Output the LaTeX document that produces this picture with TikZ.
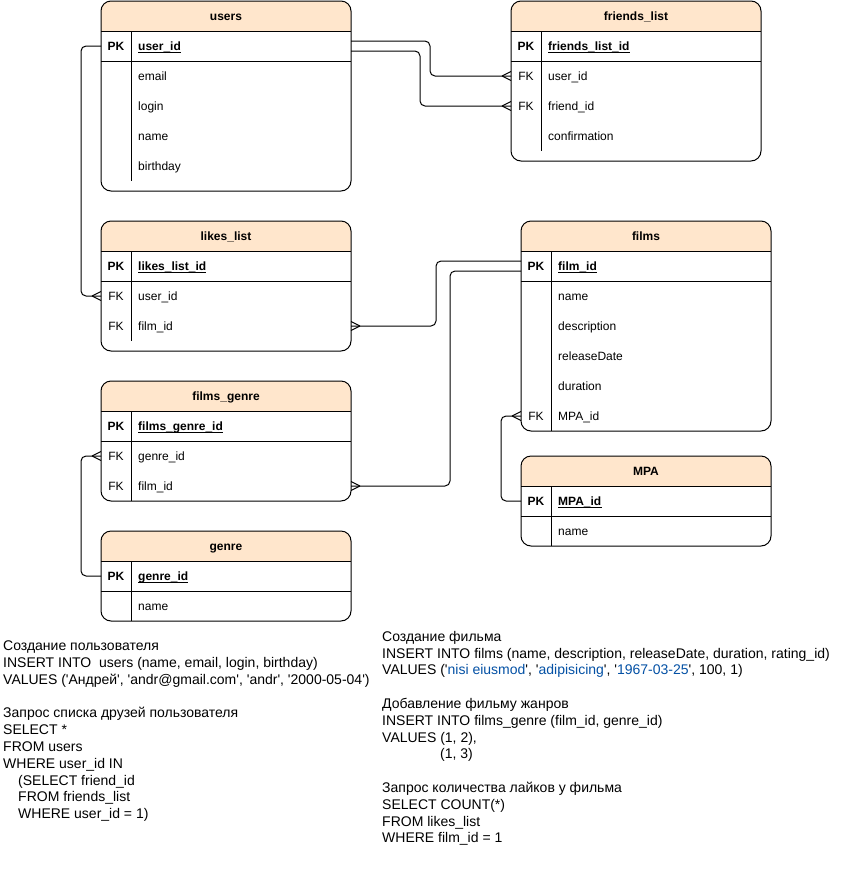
\documentclass[tikz,border=0pt]{standalone}
\usepackage{fontspec}
\setmainfont{Liberation Sans}
\usetikzlibrary{calc}

\definecolor{hdrfill}{HTML}{FFE6CC}
\definecolor{strblue}{HTML}{0451A5}

\newcommand\sq{\textquotesingle}

\tikzset{
  tline/.style={line width=1pt},
  tbl/.style={draw, line width=1pt, rounded corners=10pt, inner sep=0pt, outer sep=0pt},
  ttl/.style={anchor=base, inner sep=0pt, font=\fontsize{12}{14}\selectfont\bfseries},
  keytxt/.style={anchor=base, inner sep=0pt},
  fldtxt/.style={anchor=base west, inner sep=0pt},
  conn/.style={line width=1pt, rounded corners=5pt},
  sqltxt/.style={anchor=north west, align=left, inner sep=0pt, font=\fontsize{14}{16.8}\selectfont},
}

% table frame: name, x, y, width, height, title, end of key column rule
\newcommand\ertable[7]{%
  \begin{scope}
    \clip[rounded corners=10pt] (#2,#3) rectangle ++(#4,#5);
    \fill[hdrfill] (#2,#3) rectangle ++(#4,30);
  \end{scope}
  \node[tbl, minimum width=#4pt, minimum height=#5pt, anchor=north west] (#1) at (#2,#3) {};
  \draw[tline] (#2,#3+30) -- ++(#4,0);
  \draw[tline] (#2,#3+60) -- ++(#4,0);
  \draw[tline] (#2+30,#3+30) -- (#2+30,#7);
  \node[ttl] (#1-title) at (#2+#4/2,#3+19.5) {#6};
}

% primary key row: node name, table x, row centre y, field
\newcommand\pkrow[4]{%
  \node[keytxt, font=\fontsize{12}{14}\selectfont\bfseries] (#1-k) at (#2+15,#3+4.3) {PK};
  \node[fldtxt, font=\fontsize{12}{14}\selectfont\bfseries] (#1) at (#2+37,#3+4.3) {#4};
  \draw[tline] ([yshift=-2pt]#1.base west) -- ([yshift=-2pt]#1.base east);
}

% ordinary row: node name, table x, row centre y, key, field
\newcommand\fldrow[5]{%
  \node[keytxt] (#1-k) at (#2+15,#3+4.3) {#4};
  \node[fldtxt] (#1) at (#2+37,#3+4.3) {#5};
}

% crow's foot (many) ends
\newcommand\crowL[1]{%
  \draw[tline] ($(#1)+(-9,0)$) -- ($(#1)+(0,-4.5)$) ($(#1)+(-9,0)$) -- ($(#1)+(0,4.5)$);
}
\newcommand\crowR[1]{%
  \draw[tline] ($(#1)+(9,0)$) -- ($(#1)+(0,-4.5)$) ($(#1)+(9,0)$) -- ($(#1)+(0,4.5)$);
}

\begin{document}
\begin{tikzpicture}[x=1pt, y=-1pt, every node/.style={font=\fontsize{12}{14}\selectfont}]
\useasboundingbox[fill=white] (0,0) rectangle (850,871);

% ---------- tables ----------
\ertable{users}{101}{1}{250}{190}{users}{181}
\pkrow{users-id}{101}{46}{user\_id}
\fldrow{users-email}{101}{76}{}{email}
\fldrow{users-login}{101}{106}{}{login}
\fldrow{users-name}{101}{136}{}{name}
\fldrow{users-bday}{101}{166}{}{birthday}

\ertable{fl}{511}{1}{250}{160}{friends\_list}{151}
\pkrow{fl-id}{511}{46}{friends\_list\_id}
\fldrow{fl-uid}{511}{76}{FK}{user\_id}
\fldrow{fl-fid}{511}{106}{FK}{friend\_id}
\fldrow{fl-conf}{511}{136}{}{confirmation}

\ertable{likes}{101}{221}{250}{130}{likes\_list}{341}
\pkrow{likes-id}{101}{266}{likes\_list\_id}
\fldrow{likes-uid}{101}{296}{FK}{user\_id}
\fldrow{likes-film}{101}{326}{FK}{film\_id}

\ertable{films}{521}{221}{250}{210}{films}{431}
\pkrow{films-id}{521}{266}{film\_id}
\fldrow{films-name}{521}{296}{}{name}
\fldrow{films-desc}{521}{326}{}{description}
\fldrow{films-rel}{521}{356}{}{releaseDate}
\fldrow{films-dur}{521}{386}{}{duration}
\fldrow{films-mpa}{521}{416}{FK}{MPA\_id}

\ertable{fg}{101}{381}{250}{120}{films\_genre}{501}
\pkrow{fg-id}{101}{426}{films\_genre\_id}
\fldrow{fg-genre}{101}{456}{FK}{genre\_id}
\fldrow{fg-film}{101}{486}{FK}{film\_id}

\ertable{genre}{101}{531}{250}{90}{genre}{621}
\pkrow{genre-id}{101}{576}{genre\_id}
\fldrow{genre-name}{101}{606}{}{name}

\ertable{mpa}{521}{456}{250}{90}{MPA}{546}
\pkrow{mpa-id}{521}{501}{MPA\_id}
\fldrow{mpa-name}{521}{531}{}{name}

% ---------- attachment points ----------
\coordinate (users-pkL) at (users.west |- 0,46);
\coordinate (users-r1) at (users.east |- 0,41);
\coordinate (users-r2) at (users.east |- 0,51);
\coordinate (fl-uidL) at (fl.west |- 0,76);
\coordinate (fl-fidL) at (fl.west |- 0,106);
\coordinate (likes-uidL) at (likes.west |- 0,296);
\coordinate (likes-filmR) at (likes.east |- 0,326);
\coordinate (films-pkL1) at (films.west |- 0,261);
\coordinate (films-pkL2) at (films.west |- 0,271);
\coordinate (films-mpaL) at (films.west |- 0,416);
\coordinate (fg-genreL) at (fg.west |- 0,456);
\coordinate (fg-filmR) at (fg.east |- 0,486);
\coordinate (genre-pkL) at (genre.west |- 0,576);
\coordinate (mpa-pkL) at (mpa.west |- 0,501);

% ---------- relations ----------
\draw[conn] (users-pkL) -- ++(-20,0) |- (likes-uidL);
\crowL{likes-uidL}
\draw[conn] (users-r1) -- ++(79,0) |- (fl-uidL);
\crowL{fl-uidL}
\draw[conn] (users-r2) -- ++(69,0) |- (fl-fidL);
\crowL{fl-fidL}
\draw[conn] (likes-filmR) -- ++(85,0) |- (films-pkL1);
\crowR{likes-filmR}
\draw[conn] (fg-filmR) -- ++(99,0) |- (films-pkL2);
\crowR{fg-filmR}
\draw[conn] (mpa-pkL) -- ++(-20,0) |- (films-mpaL);
\crowL{films-mpaL}
\draw[conn] (genre-pkL) -- ++(-20,0) |- (fg-genreL);
\crowL{fg-genreL}

% ---------- SQL notes ----------
\node[sqltxt] (sqlusers) at (3,638.5) {\rule{0pt}{12pt}Создание пользователя\\
INSERT INTO~ users (name, email, login, birthday)\\
VALUES (\sq Андрей\sq, \sq andr@gmail.com\sq, \sq andr\sq, \sq 2000-05-04\sq)\\[16.8pt]
Запрос списка друзей пользователя\\
SELECT *\\
FROM users\\
WHERE user\_id IN\\
\hspace*{15pt}(SELECT friend\_id\\
\hspace*{15pt}FROM friends\_list\\
\hspace*{15pt}WHERE user\_id = 1)};

\node[sqltxt] (sqlfilms) at (382,629) {\rule{0pt}{12pt}Создание фильма\\
INSERT INTO films (name, description, releaseDate, duration, rating\_id)\\
VALUES (\sq\textcolor{strblue}{nisi eiusmod}\sq, \sq\textcolor{strblue}{adipisicing}\sq, \sq\textcolor{strblue}{1967-03-25}\sq, 100, 1)\\[16.8pt]
Добавление фильму жанров\\
INSERT INTO films\_genre (film\_id, genre\_id)\\
VALUES (1, 2),\\
\hspace*{58pt}(1, 3)\\[16.8pt]
Запрос количества лайков у фильма\\
SELECT COUNT(*)\\
FROM likes\_list\\
WHERE film\_id = 1};

\end{tikzpicture}
\end{document}
